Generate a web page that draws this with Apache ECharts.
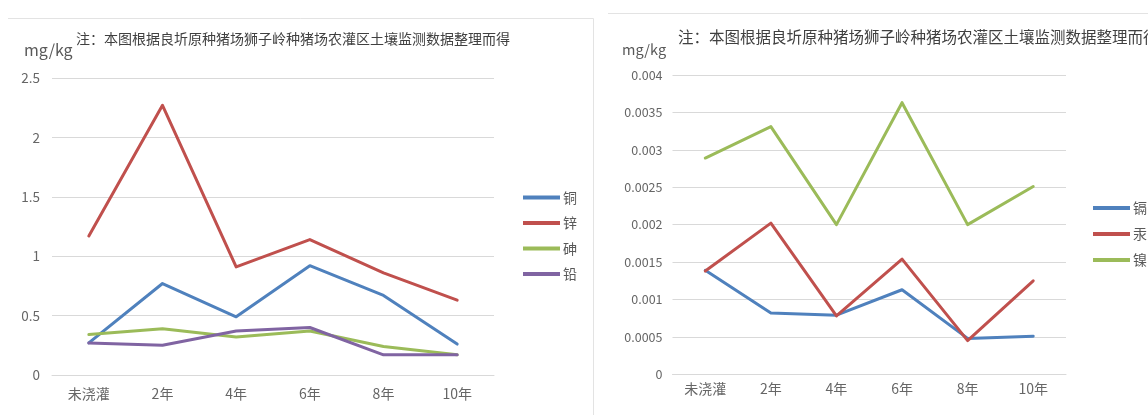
<!DOCTYPE html>
<html>
<head>
<meta charset="utf-8">
<script src="https://cdn.jsdelivr.net/npm/echarts@6/dist/echarts.min.js"></script>
<style>
html,body{margin:0;padding:0;background:#fff}
#c{width:1148px;height:415px}
</style>
</head>
<body>
<div id="c"></div>
<script>
// Categories: years of irrigation
const years = ['未浇灌', '2年', '4年', '6年', '8年', '10年'];

// Left panel series (mg/kg)
const leftNames = ['铜', '锌', '砷', '铅'];
const copper = [0.27, 0.77, 0.49, 0.92, 0.67, 0.26];
const zinc = [1.17, 2.27, 0.91, 1.14, 0.86, 0.63];
const arsenic = [0.34, 0.39, 0.32, 0.37, 0.24, 0.17];
const lead = [0.27, 0.25, 0.37, 0.40, 0.17, 0.17];

// Right panel series (mg/kg)
const rightNames = ['镉', '汞', '镍'];
const cadmium = [0.00139, 0.00082, 0.00079, 0.00113, 0.00048, 0.00051];
const mercury = [0.00138, 0.00202, 0.00078, 0.00154, 0.00045, 0.00125];
const nickel = [0.00289, 0.00331, 0.00200, 0.00363, 0.00200, 0.00251];

// Value axis ranges
const leftAxis = { min: 0, max: 2.5, interval: 0.5 };
const rightAxis = { min: 0, max: 0.004, interval: 0.0005 };

const unitText = 'mg/kg';
const noteText = '注：本图根据良圻原种猪场狮子岭种猪场农灌区土壤监测数据整理而得';

const colors = ['#4F81BD', '#C0504D', '#9BBB59', '#8064A2'];
const font = '"Noto Sans CJK SC", "Open Sans", sans-serif';
const gridColor = '#d9d9d9';

function lineSeries(name, data, idx, color) {
  return {
    name, type: 'line', data,
    xAxisIndex: idx, yAxisIndex: idx,
    symbol: 'none', smooth: false,
    lineStyle: { width: 3, color, join: 'round', cap: 'round' },
    itemStyle: { color },
    animation: false
  };
}

function catAxis(idx, margin) {
  return {
    type: 'category', gridIndex: idx, data: years, boundaryGap: true,
    axisLine: { show: true, lineStyle: { color: gridColor, width: 1 } },
    axisTick: { show: false },
    axisLabel: { color: '#666', fontSize: 14, fontFamily: font, margin }
  };
}

function valAxis(idx, r, fs, margin) {
  return {
    type: 'value', gridIndex: idx, min: r.min, max: r.max, interval: r.interval,
    axisLine: { show: false }, axisTick: { show: false },
    splitLine: { lineStyle: { color: gridColor, width: 1 } },
    axisLabel: { color: '#666', fontSize: fs, fontFamily: font, margin }
  };
}

const chart = echarts.init(document.getElementById('c'), null, { renderer: 'canvas' });

chart.setOption({
  backgroundColor: '#fff',
  animation: false,
  title: [
    { text: unitText, left: 19, top: 37, textStyle: { fontSize: 16, fontWeight: 'normal', color: '#595959', fontFamily: font } },
    { text: noteText, left: 71, top: 27, textStyle: { fontSize: 14, fontWeight: 'normal', color: '#404040', fontFamily: font } },
    { text: unitText, left: 617, top: 37, textStyle: { fontSize: 14.5, fontWeight: 'normal', color: '#595959', fontFamily: font } },
    { text: noteText, left: 673, top: 24, textStyle: { fontSize: 15.5, fontWeight: 'normal', color: '#404040', fontFamily: font } }
  ],
  grid: [
    { left: 52, right: 654, top: 78, bottom: 40 },
    { left: 672.5, right: 82, top: 75, bottom: 40.7 }
  ],
  xAxis: [catAxis(0, 12), catAxis(1, 7)],
  yAxis: [valAxis(0, leftAxis, 13.5, 12), valAxis(1, rightAxis, 12.5, 10)],
  legend: [
    {
      data: leftNames, orient: 'vertical', left: 518, top: 184.5,
      icon: 'rect', itemWidth: 37, itemHeight: 4, itemGap: 9.5,
      textStyle: { fontSize: 14, lineHeight: 16, color: '#595959', fontFamily: font, padding: [0, 0, 0, -2] }
    },
    {
      data: rightNames, orient: 'vertical', left: 1088, top: 195,
      icon: 'rect', itemWidth: 37, itemHeight: 4, itemGap: 10,
      textStyle: { fontSize: 14, lineHeight: 16, color: '#595959', fontFamily: font, padding: [0, 0, 0, -2] }
    }
  ],
  graphic: [
    { type: 'polyline', shape: { points: [[8, 18.5], [593.5, 18.5], [593.5, 415]] }, style: { stroke: '#e3e3e3', lineWidth: 1, fill: null }, silent: true },
    { type: 'line', shape: { x1: 608, y1: 13.5, x2: 1148, y2: 13.5 }, style: { stroke: '#e3e3e3', lineWidth: 1 }, silent: true }
  ],
  series: [
    lineSeries(leftNames[0], copper, 0, colors[0]),
    lineSeries(leftNames[1], zinc, 0, colors[1]),
    lineSeries(leftNames[2], arsenic, 0, colors[2]),
    lineSeries(leftNames[3], lead, 0, colors[3]),
    lineSeries(rightNames[0], cadmium, 1, colors[0]),
    lineSeries(rightNames[1], mercury, 1, colors[1]),
    lineSeries(rightNames[2], nickel, 1, colors[2])
  ]
});
</script>
</body>
</html>
